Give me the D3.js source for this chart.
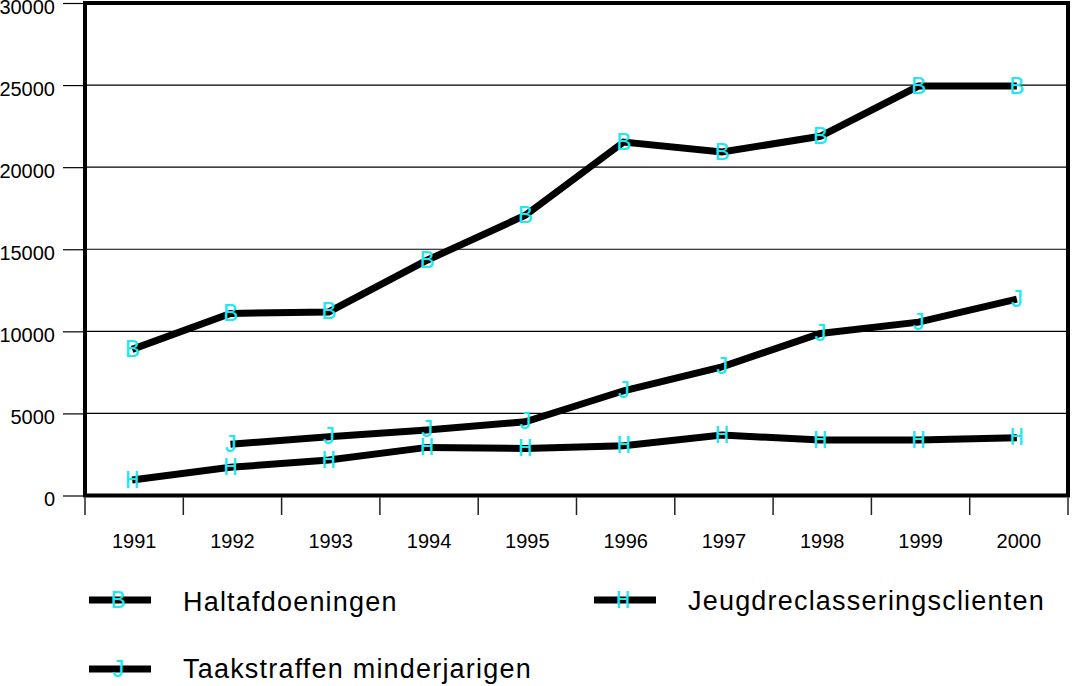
<!DOCTYPE html>
<html><head><meta charset="utf-8">
<script src="https://cdn.jsdelivr.net/npm/d3@7"></script>
<style>html,body{margin:0;padding:0;background:#fff;}svg{display:block;}</style>
</head><body><svg id="c" width="1072" height="686"></svg>
<script>
const years = ["1991","1992","1993","1994","1995","1996","1997","1998","1999","2000"];
const haltValues = [8900, 11090, 11180, 14330, 17070, 21530, 20920, 21880, 24940, 24940];
const taakValues = [null, 3120, 3580, 3990, 4490, 6380, 7840, 9870, 10560, 11960];
const jeugdValues = [940, 1720, 2160, 2930, 2870, 3030, 3680, 3380, 3380, 3520];
const seriesNames = ["Haltafdoeningen", "Taakstraffen minderjarigen", "Jeugdreclasseringsclienten"];
const seriesMarkers = ["B", "J", "H"];
const yTicks = [0, 5000, 10000, 15000, 20000, 25000, 30000];

const svg = d3.select("#c");
const L = 85, R = 1068, T = 3, B = 495.5;
const x = d3.scaleBand().domain(years).range([L, R]);
const y = d3.scaleLinear().domain([0, 30000]).range([B, T]);
const px = d => x(d) + x.bandwidth() / 2 - 2;
const cyan = "#1de9f0";
const markFont = "'Liberation Mono', monospace";
const sans = "'Liberation Sans', Arial, sans-serif";

// gridlines
svg.append("g").selectAll("line").data(yTicks.filter(t => t > 0 && t < 30000)).join("line")
  .attr("x1", L).attr("x2", R).attr("y1", d => y(d)).attr("y2", d => y(d))
  .attr("stroke", "#000").attr("stroke-width", 1.2);

// y axis ticks and labels
const ya = svg.append("g").attr("transform", `translate(${L},0)`)
  .call(d3.axisLeft(y).tickValues(yTicks).tickSize(22).tickPadding(8).tickFormat(d3.format("d")));
ya.select(".domain").remove();
ya.selectAll(".tick line").attr("stroke", "#000").attr("stroke-width", 1.2);
ya.selectAll(".tick text").attr("font-family", sans)
  .attr("font-size", 20).attr("fill", "#000").attr("dy", 10).attr("x", -30);

// x axis ticks at band boundaries
const bounds = years.map(d => x(d)).concat([R]);
svg.append("g").selectAll("line").data(bounds).join("line")
  .attr("x1", d => d).attr("x2", d => d).attr("y1", B + 2).attr("y2", 515)
  .attr("stroke", "#222").attr("stroke-width", 1.5);
const xa = svg.append("g").attr("transform", `translate(0,${B})`)
  .call(d3.axisBottom(x).tickSize(0).tickPadding(0));
xa.select(".domain").remove();
xa.selectAll(".tick text").attr("font-family", sans)
  .attr("font-size", 20).attr("fill", "#000").attr("dy", 0).attr("y", 52);

// frame
svg.append("rect").attr("x", L).attr("y", T).attr("width", R - L).attr("height", B - T)
  .attr("fill", "none").attr("stroke", "#000").attr("stroke-width", 4);

const series = [haltValues, taakValues, jeugdValues];
const line = d3.line().defined(d => d.v != null).x(d => px(d.year)).y(d => y(d.v));
series.forEach((vals, i) => {
  const pts = years.map((yr, j) => ({year: yr, v: vals[j]}));
  svg.append("path").datum(pts).attr("d", line).attr("fill", "none")
    .attr("stroke", "#000").attr("stroke-width", 7).attr("stroke-linejoin", "miter");
  svg.append("g").selectAll("text").data(pts.filter(d => d.v != null)).join("text")
    .attr("x", d => px(d.year)).attr("y", d => y(d.v) + 7.5)
    .attr("text-anchor", "middle").attr("font-family", markFont).attr("font-size", 25)
    .attr("fill", cyan).text(seriesMarkers[i]);
});

// legend
const legendPos = [
  {lx: 89, ly: 600, tx: 183, ty: 611},
  {lx: 89, ly: 669, tx: 183, ty: 678},
  {lx: 594, ly: 600, tx: 688, ty: 610}
];
const lg = svg.append("g");
legendPos.forEach((p, i) => {
  lg.append("line").attr("x1", p.lx).attr("x2", p.lx + 62).attr("y1", p.ly).attr("y2", p.ly)
    .attr("stroke", "#000").attr("stroke-width", 7);
  lg.append("text").attr("x", p.lx + 29).attr("y", p.ly + 8).attr("text-anchor", "middle")
    .attr("font-family", markFont).attr("font-size", 25).attr("fill", cyan).text(seriesMarkers[i]);
  lg.append("text").attr("x", p.tx).attr("y", p.ty)
    .attr("font-family", sans).attr("font-size", 27)
    .attr("letter-spacing", 1.2).attr("fill", "#000").text(seriesNames[i]);
});
</script></body></html>
